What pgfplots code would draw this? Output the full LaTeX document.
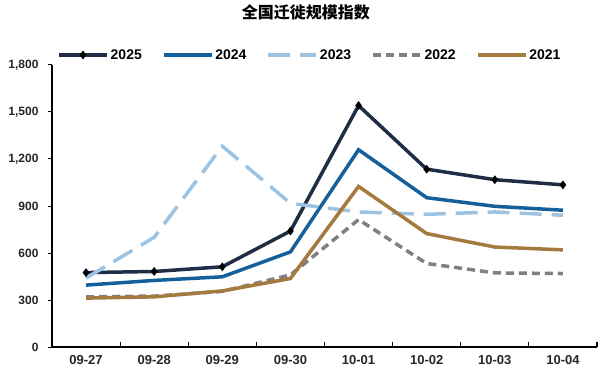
\documentclass[border=0pt]{standalone}
\usepackage{pgfplots}
\usepackage{pgfplotstable}
\pgfplotsset{compat=1.18}
\usepackage{fontspec}
\setmainfont{Liberation Sans}
\newfontfamily\cjk{Noto Sans CJK SC}
\definecolor{cA}{RGB}{31,45,70}
\definecolor{cB}{RGB}{21,96,155}
\definecolor{cC}{RGB}{156,195,225}
\definecolor{cD}{RGB}{128,128,128}
\definecolor{cE}{RGB}{165,122,63}
\pgfplotstableread{
x y2025 y2024 y2023 y2022 y2021
0 475 395 440 320 312
1 482 425 700 325 320
2 512 448 1282 355 358
3 740 607 917 460 437
4 1541 1259 862 813 1025
5 1135 953 847 533 724
6 1068 898 862 473 638
7 1035 873 841 469 620
}\data
\begin{document}
\begin{tikzpicture}
\path[use as bounding box] (-52pt,-31pt) rectangle (548pt,347pt);
\begin{axis}[
  at={(0,0)}, anchor=south west,
  scale only axis, width=545pt, height=282pt,
  xmin=-0.5, xmax=7.5, ymin=0, ymax=1800,
  axis x line*=bottom, axis y line*=left,
  axis line style={line width=1.2pt, black, -},
  xtick={0,...,7},
  xticklabels={09-27,09-28,09-29,09-30,10-01,10-02,10-03,10-04},
  major x tick style={draw=none},
  minor xtick={0.5,1.5,2.5,3.5,4.5,5.5,6.5,7.5},
  minor x tick style={line width=1.2pt, black},
  minor tick length=5pt,
  tick align=inside,
  ytick={0,300,600,900,1200,1500,1800},
  major tick length=4pt,
  y tick style={line width=1pt, black, xshift=-4pt},
  /pgf/number format/assume math mode=true,
  /pgf/number format/1000 sep={,},
  ticklabel style={font=\bfseries\fontsize{12}{14}\selectfont, text=black!85},
  yticklabel style={xshift=-10pt},
  xticklabel style={yshift=-5pt, font=\bfseries\fontsize{13}{15}\selectfont},
  title={\cjk\bfseries\fontsize{16}{18}\selectfont 全国迁徙规模指数},
  title style={at={(0.466,1)}, anchor=center, yshift=47pt},
  legend columns=-1,
  legend style={at={(0,1)}, anchor=west, xshift=5pt, yshift=10pt, draw=none, fill=none, inner sep=0pt,
    font=\bfseries\fontsize{14}{16}\selectfont,
    /tikz/every even column/.append style={column sep=18pt},
    nodes={inner sep=2pt}},
  legend image code/.code={\draw[mark repeat=2,mark phase=2,#1] plot coordinates {(0pt,0pt) (24pt,0pt) (48pt,0pt)};},
  every axis plot/.append style={line width=3.5pt},
]
\addplot[color=cA, mark=diamond*, mark size=4pt, mark options={solid, fill=black, draw=black, line width=0.5pt}] table[x=x,y=y2025] {\data};
\addlegendentry{2025}
\addplot[color=cB] table[x=x,y=y2024] {\data};
\addlegendentry{2024}
\addplot[color=cC, dash pattern=on 22pt off 10pt] table[x=x,y=y2023] {\data};
\addlegendentry{2023}
\addplot[color=cD, dash pattern=on 8pt off 5pt] table[x=x,y=y2022] {\data};
\addlegendentry{2022}
\addplot[color=cE] table[x=x,y=y2021] {\data};
\addlegendentry{2021}
\end{axis}
\end{tikzpicture}
\end{document}
